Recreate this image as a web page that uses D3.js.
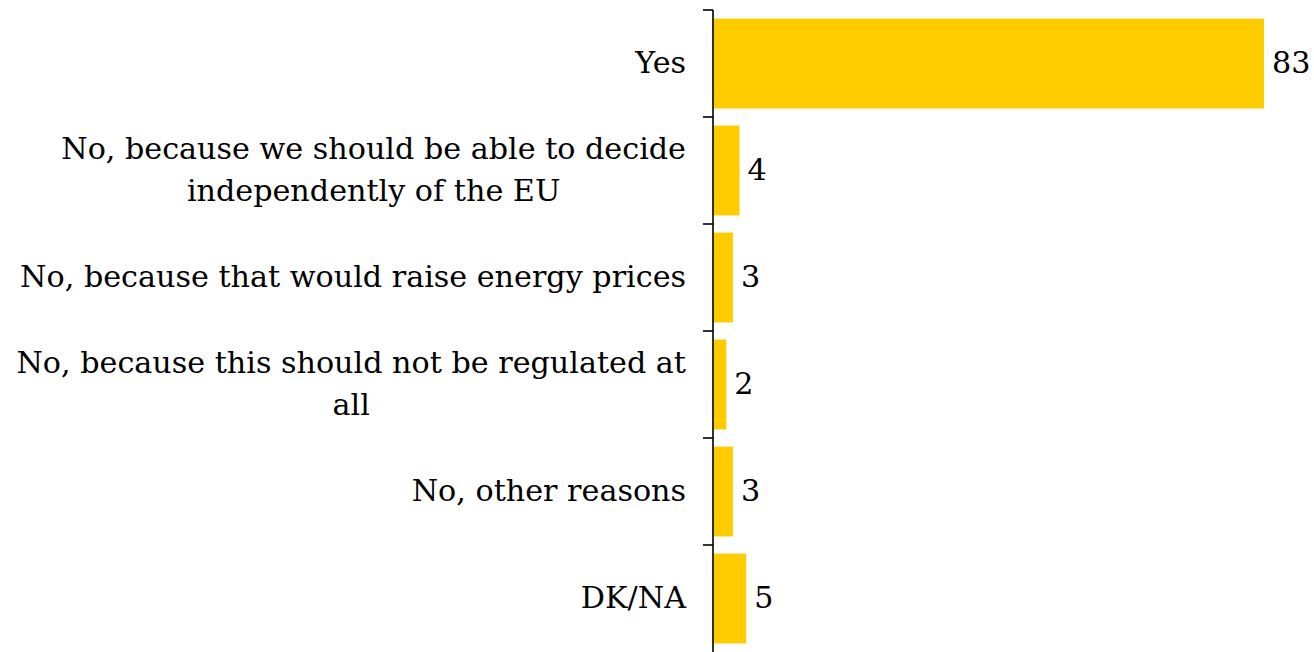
<!DOCTYPE html>
<html>
<head>
<meta charset="utf-8">
<script src="https://cdn.jsdelivr.net/npm/d3@7"></script>
<style>
html,body{margin:0;padding:0;background:#fff;}
svg{display:block;}
text{font-family:"DejaVu Serif","Liberation Serif",serif;fill:#000;}
</style>
</head>
<body>
<svg id="chart" width="1314" height="652"></svg>
<script>
const categories = [
  "Yes",
  "No, because we should be able to decide|independently of the EU",
  "No, because that would raise energy prices",
  "No, because this should not be regulated at|all",
  "No, other reasons",
  "DK/NA"
];
const values = [83, 4, 3, 2, 3, 5];

(function(){
const svg = d3.select("#chart");
const axisX = 713;
const yTop = 10, yBottom = 652;
const y = d3.scaleBand().domain(d3.range(categories.length)).range([yTop, yBottom]).paddingInner(0.16).paddingOuter(0.08);
const x = d3.scaleLinear().domain([0, 83]).range([axisX, 1264]);

svg.selectAll("rect.bar").data(values).enter().append("rect")
  .attr("class","bar")
  .attr("x", axisX)
  .attr("y", (d,i)=>y(i))
  .attr("width", d=>x(d)-axisX)
  .attr("height", y.bandwidth())
  .attr("fill", "#FFCC00");

const g = svg.append("g");
g.append("line").attr("x1",axisX).attr("x2",axisX).attr("y1",yTop).attr("y2",yBottom)
  .attr("stroke","#000").attr("stroke-width",1.6);
const tickPos = d3.range(categories.length).map(i => yTop + i*(yBottom-yTop)/categories.length);
g.selectAll("line.tick").data(tickPos).enter().append("line")
  .attr("class","tick").attr("x1",axisX-10).attr("x2",axisX).attr("y1",d=>d).attr("y2",d=>d)
  .attr("stroke","#000").attr("stroke-width",1.6);

const labelRight = 686;
const fs = 30.2, lh = 42, base = 9.5;
categories.forEach((c,i)=>{
  const lines = c.split("|");
  const cy = y(i) + y.bandwidth()/2;
  const t = svg.append("text").attr("font-size", fs);
  const spans = lines.map((ln,k)=> t.append("tspan").text(ln)
      .attr("y", cy + base + (k - (lines.length-1)/2)*lh));
  const widths = spans.map(s=>s.node().getComputedTextLength());
  const W = d3.max(widths);
  const cx = labelRight - W/2;
  spans.forEach(s=> s.attr("x", cx).attr("text-anchor","middle"));
});

svg.selectAll("text.val").data(values).enter().append("text")
  .attr("class","val")
  .attr("x", d=>x(d)+8)
  .attr("y", (d,i)=>y(i)+y.bandwidth()/2 + base)
  .attr("font-size", fs)
  .text(d=>d);
})();
</script>
</body>
</html>
